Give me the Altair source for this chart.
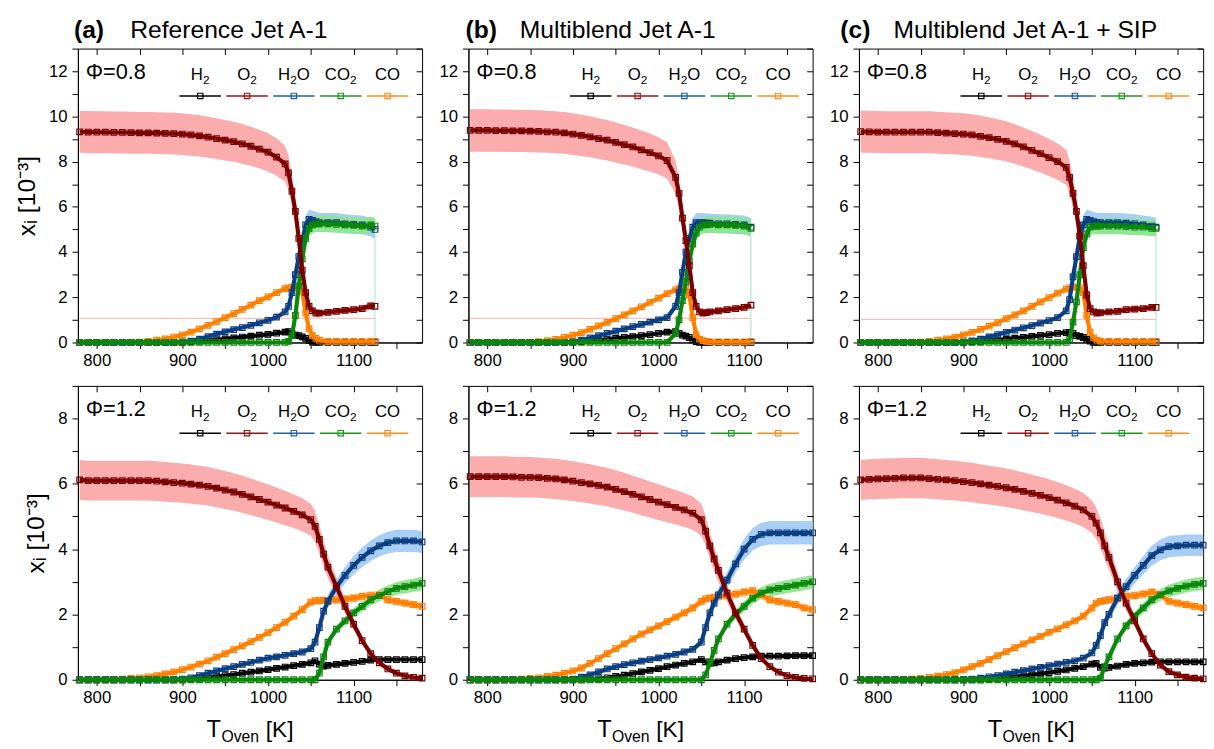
import altair as alt
import pandas as pd

# ------------------------------------------------------------------ data
# oven temperature grid [K]
T_TOP = [780, 790, 800, 810, 820, 830, 840, 850, 860, 870, 880, 890,
         900, 910, 920, 930, 940, 950, 960, 970, 980, 990, 1000, 1010, 1020,
         1024, 1028, 1032, 1036, 1040, 1044, 1048, 1052, 1056, 1060,
         1070, 1080, 1090, 1100]
T_TOP_A = T_TOP + [1110, 1120, 1125]
T_TOP_B = T_TOP + [1108]
T_TOP_C = T_TOP + [1110, 1120, 1125]

T_BOT = [780, 790, 800, 810, 820, 830, 840, 850, 860, 870, 880, 890,
         900, 910, 920, 930, 940, 950, 960, 970, 980, 990, 1000, 1010, 1020, 1030, 1040, 1050,
         1055, 1060, 1065,
         1070, 1080, 1090, 1100, 1110, 1120, 1130, 1140, 1150, 1160, 1170, 1180]

# ---- (a) Reference Jet A-1, phi = 0.8  [10^-3]
A_TOP_H2 = [0, 0, 0, 0, 0, 0, 0, 0, 0, 0, 0, 0,
            0.01, 0.03, 0.06, 0.09, 0.12, 0.16, 0.20, 0.24, 0.28, 0.32, 0.36, 0.41, 0.46,
            0.48, 0.40, 0.33, 0.30, 0.25, 0.18, 0.08, 0.02, 0, 0,
            0, 0, 0, 0,
            0, 0, 0]
A_TOP_O2 = [9.32, 9.31, 9.30, 9.30, 9.29, 9.29, 9.28, 9.27, 9.27, 9.26, 9.25, 9.24,
            9.22, 9.18, 9.14, 9.08, 9.02, 8.95, 8.88, 8.79, 8.68, 8.55, 8.42, 8.20, 7.90,
            7.50, 6.70, 5.80, 4.60, 3.20, 2.20, 1.60, 1.40, 1.30, 1.30,
            1.33, 1.38, 1.42, 1.45,
            1.50, 1.62, 1.60]
A_TOP_H2O = [0, 0, 0, 0, 0, 0, 0, 0, 0, 0, 0, 0,
             0.02, 0.06, 0.15, 0.26, 0.37, 0.47, 0.57, 0.66, 0.76, 0.87, 0.98, 1.12, 1.35,
             1.60, 2.20, 3.00, 3.80, 4.50, 5.20, 5.45, 5.40, 5.35, 5.30,
             5.30, 5.30, 5.25, 5.22,
             5.20, 5.10, 5.00]
A_TOP_CO2 = [0, 0, 0, 0, 0, 0, 0, 0, 0, 0, 0, 0,
             0, 0, 0, 0, 0, 0, 0, 0, 0, 0, 0, 0, 0,
             0.05, 0.30, 1.20, 2.50, 3.70, 4.60, 5.05, 5.20, 5.25, 5.25,
             5.25, 5.22, 5.20, 5.18,
             5.15, 5.20, 5.15]
A_TOP_CO = [0, 0, 0, 0, 0, 0, 0, 0.02, 0.05, 0.10, 0.16, 0.24,
            0.34, 0.46, 0.60, 0.76, 0.92, 1.10, 1.28, 1.46, 1.65, 1.85, 2.02, 2.20, 2.38,
            2.42, 2.45, 2.45, 2.42, 2.25, 1.30, 0.60, 0.30, 0.18, 0.10,
            0.05, 0.05, 0.05, 0.05,
            0.05, 0.05, 0.05]

# ---- (b) Multiblend Jet A-1, phi = 0.8
B_TOP_H2 = [0, 0, 0, 0, 0, 0, 0, 0, 0, 0, 0, 0,
            0.02, 0.04, 0.07, 0.10, 0.14, 0.18, 0.22, 0.26, 0.30, 0.35, 0.40, 0.46, 0.48,
            0.40, 0.33, 0.28, 0.22, 0.12, 0.04, 0, 0, 0, 0,
            0, 0, 0, 0,
            0]
B_TOP_O2 = [9.38, 9.38, 9.38, 9.37, 9.37, 9.36, 9.36, 9.35, 9.34, 9.32, 9.30, 9.27,
            9.22, 9.16, 9.10, 9.02, 8.95, 8.85, 8.75, 8.65, 8.52, 8.40, 8.25, 8.05, 7.30,
            6.60, 5.50, 4.50, 3.40, 2.20, 1.60, 1.35, 1.30, 1.32, 1.35,
            1.40, 1.45, 1.50, 1.55,
            1.65]
B_TOP_H2O = [0, 0, 0, 0, 0, 0, 0, 0, 0, 0, 0, 0,
             0.03, 0.10, 0.20, 0.30, 0.40, 0.50, 0.60, 0.70, 0.80, 0.90, 1.00, 1.10, 1.60,
             2.20, 3.10, 4.00, 4.60, 5.10, 5.30, 5.30, 5.30, 5.28, 5.28,
             5.25, 5.25, 5.22, 5.20,
             5.10]
B_TOP_CO2 = [0, 0, 0, 0, 0, 0, 0, 0, 0, 0, 0, 0,
             0, 0, 0, 0, 0, 0, 0, 0, 0, 0, 0, 0, 0.40,
             1.00, 1.85, 2.70, 3.60, 4.35, 4.85, 5.10, 5.20, 5.20, 5.22,
             5.20, 5.20, 5.18, 5.15,
             5.05]
B_TOP_CO = [0, 0, 0, 0, 0, 0, 0, 0, 0.04, 0.08, 0.14, 0.22,
            0.32, 0.44, 0.58, 0.73, 0.89, 1.05, 1.22, 1.40, 1.58, 1.77, 1.96, 2.16, 2.33,
            2.38, 2.40, 2.40, 2.10, 1.10, 0.35, 0.15, 0.08, 0.05, 0.03,
            0.03, 0.03, 0.03, 0.03,
            0.05]

# ---- (c) Multiblend Jet A-1 + SIP, phi = 0.8
C_TOP_H2 = [0, 0, 0, 0, 0, 0, 0, 0, 0, 0, 0, 0,
            0.01, 0.03, 0.05, 0.08, 0.11, 0.15, 0.19, 0.23, 0.27, 0.31, 0.35, 0.40, 0.44,
            0.45, 0.40, 0.30, 0.27, 0.22, 0.15, 0.06, 0, 0, 0,
            0, 0, 0, 0,
            0, 0, 0]
C_TOP_O2 = [9.33, 9.32, 9.31, 9.30, 9.30, 9.30, 9.30, 9.30, 9.30, 9.28, 9.26, 9.24,
            9.22, 9.18, 9.12, 9.06, 8.98, 8.90, 8.78, 8.65, 8.50, 8.35, 8.18, 8.00, 7.75,
            7.30, 6.60, 5.80, 4.70, 3.40, 2.10, 1.50, 1.35, 1.30, 1.32,
            1.35, 1.38, 1.45, 1.48,
            1.50, 1.55, 1.55]
C_TOP_H2O = [0, 0, 0, 0, 0, 0, 0, 0, 0, 0, 0, 0,
             0.02, 0.07, 0.15, 0.25, 0.35, 0.45, 0.55, 0.65, 0.75, 0.86, 0.97, 1.10, 1.40,
             1.90, 2.90, 3.80, 4.70, 5.20, 5.45, 5.40, 5.35, 5.30, 5.30,
             5.30, 5.30, 5.28, 5.25,
             5.20, 5.15, 5.10]
C_TOP_CO2 = [0, 0, 0, 0, 0, 0, 0, 0, 0, 0, 0, 0,
             0, 0, 0, 0, 0, 0, 0, 0, 0, 0, 0, 0, 0,
             0.15, 0.90, 1.80, 3.00, 4.20, 4.80, 5.10, 5.15, 5.15, 5.15,
             5.15, 5.15, 5.12, 5.10,
             5.10, 5.05, 5.05]
C_TOP_CO = [0, 0, 0, 0, 0, 0, 0, 0.02, 0.05, 0.10, 0.16, 0.24,
            0.34, 0.45, 0.58, 0.72, 0.88, 1.05, 1.22, 1.40, 1.60, 1.80, 1.98, 2.18, 2.36,
            2.42, 2.45, 2.45, 2.42, 2.20, 1.20, 0.45, 0.20, 0.10, 0.06,
            0.05, 0.05, 0.05, 0.05,
            0.05, 0.05, 0.05]

# ---- phi = 1.2
A_BOT_H2 = [0, 0, 0, 0, 0, 0, 0, 0, 0, 0, 0, 0,
            0.00, 0.02, 0.04, 0.07, 0.10, 0.13, 0.16, 0.20, 0.23, 0.27, 0.31, 0.35, 0.39, 0.43, 0.47, 0.52,
            0.58, 0.48, 0.42,
            0.44, 0.47, 0.50, 0.53, 0.56, 0.60, 0.62, 0.62, 0.62, 0.62, 0.62, 0.62]
A_BOT_O2 = [6.12, 6.10, 6.10, 6.10, 6.10, 6.10, 6.10, 6.10, 6.10, 6.08, 6.06, 6.04,
            6.02, 5.99, 5.96, 5.92, 5.87, 5.81, 5.75, 5.68, 5.60, 5.52, 5.44, 5.35, 5.26, 5.16, 5.05, 4.90,
            4.70, 4.30, 3.85,
            3.45, 2.85, 2.25, 1.70, 1.20, 0.80, 0.52, 0.33, 0.20, 0.12, 0.07, 0.05]
A_BOT_H2O = [0, 0, 0, 0, 0, 0, 0, 0, 0, 0, 0, 0,
             0.02, 0.06, 0.13, 0.20, 0.27, 0.34, 0.40, 0.47, 0.53, 0.60, 0.66, 0.70, 0.75, 0.80, 0.85, 0.95,
             1.15, 1.60, 2.10,
             2.40, 2.85, 3.20, 3.50, 3.75, 3.95, 4.10, 4.20, 4.25, 4.25, 4.25, 4.22]
A_BOT_CO2 = [0, 0, 0, 0, 0, 0, 0, 0, 0, 0, 0, 0,
             0, 0, 0, 0, 0, 0, 0, 0, 0, 0, 0, 0, 0, 0, 0, 0,
             0.00, 0.20, 0.70,
             1.15, 1.55, 1.80, 2.05, 2.25, 2.45, 2.58, 2.70, 2.80, 2.85, 2.90, 2.95]
A_BOT_CO = [0, 0, 0, 0, 0, 0.02, 0.04, 0.06, 0.09, 0.13, 0.18, 0.24,
            0.31, 0.39, 0.48, 0.58, 0.69, 0.80, 0.92, 1.04, 1.17, 1.30, 1.44, 1.60, 1.76, 1.95, 2.15, 2.38,
            2.42, 2.42, 2.43,
            2.43, 2.45, 2.47, 2.50, 2.55, 2.58, 2.60, 2.45, 2.40, 2.35, 2.30, 2.25]

B_BOT_H2 = [0, 0, 0, 0, 0, 0, 0, 0, 0, 0, 0, 0,
            0, 0, 0.01, 0.03, 0.06, 0.10, 0.14, 0.19, 0.24, 0.29, 0.34, 0.40, 0.45, 0.50, 0.55, 0.62,
            0.55, 0.50, 0.52,
            0.55, 0.60, 0.65, 0.68, 0.70, 0.72, 0.72, 0.72, 0.73, 0.74, 0.74, 0.74]
B_BOT_O2 = [6.22, 6.22, 6.22, 6.22, 6.22, 6.21, 6.20, 6.20, 6.19, 6.17, 6.15, 6.12,
            6.08, 6.04, 6.00, 5.95, 5.90, 5.83, 5.76, 5.68, 5.60, 5.52, 5.44, 5.36, 5.28, 5.20, 5.10, 4.90,
            4.55, 4.10, 3.70,
            3.35, 2.65, 2.05, 1.55, 1.05, 0.65, 0.40, 0.23, 0.13, 0.07, 0.04, 0.03]
B_BOT_H2O = [0, 0, 0, 0, 0, 0, 0, 0, 0, 0, 0, 0,
             0.02, 0.08, 0.15, 0.24, 0.33, 0.40, 0.46, 0.52, 0.57, 0.62, 0.67, 0.72, 0.78, 0.85, 0.93, 1.15,
             1.60, 2.05, 2.35,
             2.60, 3.05, 3.55, 4.00, 4.30, 4.45, 4.50, 4.50, 4.50, 4.50, 4.50, 4.50]
B_BOT_CO2 = [0, 0, 0, 0, 0, 0, 0, 0, 0, 0, 0, 0,
             0, 0, 0, 0, 0, 0, 0, 0, 0, 0, 0, 0, 0, 0, 0, 0,
             0.15, 0.50, 0.90,
             1.25, 1.70, 2.00, 2.25, 2.50, 2.65, 2.75, 2.80, 2.85, 2.90, 2.95, 3.00]
B_BOT_CO = [0, 0, 0, 0, 0, 0, 0.02, 0.04, 0.06, 0.10, 0.14, 0.20,
            0.27, 0.36, 0.50, 0.65, 0.80, 0.95, 1.10, 1.25, 1.40, 1.53, 1.65, 1.78, 1.92, 2.05, 2.20, 2.40,
            2.48, 2.50, 2.52,
            2.55, 2.58, 2.62, 2.68, 2.72, 2.60, 2.45, 2.40, 2.35, 2.30, 2.20, 2.15]

C_BOT_H2 = [0, 0, 0, 0, 0, 0, 0, 0, 0, 0, 0, 0,
            0, 0, 0.00, 0.02, 0.04, 0.06, 0.09, 0.12, 0.15, 0.18, 0.22, 0.26, 0.30, 0.35, 0.40, 0.48,
            0.50, 0.38, 0.36,
            0.38, 0.42, 0.47, 0.50, 0.52, 0.54, 0.55, 0.55, 0.55, 0.55, 0.55, 0.55]
C_BOT_O2 = [6.12, 6.14, 6.15, 6.16, 6.17, 6.18, 6.18, 6.18, 6.16, 6.14, 6.12, 6.10,
            6.07, 6.04, 6.00, 5.96, 5.92, 5.88, 5.83, 5.77, 5.71, 5.65, 5.58, 5.50, 5.42, 5.32, 5.20, 5.00,
            4.80, 4.50, 4.10,
            3.75, 3.00, 2.35, 1.80, 1.25, 0.80, 0.45, 0.25, 0.15, 0.08, 0.05, 0.03]
C_BOT_H2O = [0, 0, 0, 0, 0, 0, 0, 0, 0, 0, 0, 0,
             0.00, 0.02, 0.05, 0.09, 0.13, 0.18, 0.23, 0.28, 0.33, 0.38, 0.43, 0.48, 0.53, 0.58, 0.66, 0.82,
             1.05, 1.35, 1.75,
             2.00, 2.50, 2.85, 3.20, 3.50, 3.80, 3.98, 4.08, 4.10, 4.12, 4.12, 4.12]
C_BOT_CO2 = [0, 0, 0, 0, 0, 0, 0, 0, 0, 0, 0, 0,
             0, 0, 0, 0, 0, 0, 0, 0, 0, 0, 0, 0, 0, 0, 0, 0,
             0.00, 0.05, 0.40,
             0.70, 1.25, 1.65, 1.95, 2.20, 2.45, 2.60, 2.72, 2.80, 2.87, 2.92, 2.95]
C_BOT_CO = [0, 0, 0, 0, 0, 0.01, 0.02, 0.04, 0.07, 0.11, 0.16, 0.22,
            0.30, 0.40, 0.50, 0.62, 0.74, 0.86, 0.98, 1.10, 1.22, 1.33, 1.45, 1.56, 1.68, 1.80, 1.95, 2.20,
            2.35, 2.40, 2.42,
            2.45, 2.50, 2.55, 2.58, 2.62, 2.68, 2.60, 2.40, 2.35, 2.30, 2.25, 2.20]

# relative measurement uncertainty per species (shaded bands)
REL_UNC = {"H2": 0.0, "O2": 0.10, "H2O": 0.08, "CO2": 0.07, "CO": 0.05}
# thin horizontal artefact line seen in the phi=0.8 panels [10^-3]
ARTEFACT_LEVEL = {"a": 1.07, "b": 1.07, "c": 1.02}

KEYS = ["H2", "O2", "H2O", "CO2", "CO"]
# legend labels as (text, is_subscript) pieces
LABEL_PARTS = {
    "H2": [("H", False), ("2", True)],
    "O2": [("O", False), ("2", True)],
    "H2O": [("H", False), ("2", True), ("O", False)],
    "CO2": [("CO", False), ("2", True)],
    "CO": [("CO", False)],
}
PANEL_TAGS = ["(a)", "(b)", "(c)"]
PANEL_NAMES = ["Reference Jet A-1", "Multiblend Jet A-1", "Multiblend Jet A-1 + SIP"]
PHI_LABELS = ["Φ=0.8", "Φ=1.2"]

# ------------------------------------------------------------------ style
COLORS = {"H2": "#000000", "O2": "#7a0000", "H2O": "#0c3f82", "CO2": "#0b870b", "CO": "#ff8000"}
LEG_COLORS = {"H2": "#000000", "O2": "#9a1515", "H2O": "#2060b0", "CO2": "#1a9a1a", "CO": "#ff8c1a"}
BAND = {"O2": "#fba8a8", "H2O": "#a3cbf5", "CO2": "#8fe48f", "CO": "#ffcfa3"}
DRAW_ORDER = ["H2", "CO", "H2O", "CO2", "O2"]
FONT = "Liberation Sans"
W, H = 349, 298
X_DOMAIN = [778, 1180]
X_TICKS = [800, 850, 900, 950, 1000, 1050, 1100, 1150]
TITLE_X = [(-4, 53), (-3, 52), (-19, 35)]
CHAR_W = {"H": 0.722, "O": 0.778, "C": 0.722, "2": 0.556}
LEG_FS, LEG_SUB_FS = 17, 12


def single():
    return alt.Chart(pd.DataFrame({"d": [0]}))


def txt(text, x, y, size, weight="normal", align="left"):
    return single().mark_text(text=text, font=FONT, fontSize=size, fontWeight=weight,
                              align=align, baseline="alphabetic", color="black").encode(
        x=alt.value(x), y=alt.value(y))


def legend_label(key, cx, y):
    parts = LABEL_PARTS[key]
    widths = [sum(CHAR_W[ch] for ch in s) * (LEG_SUB_FS if sub else LEG_FS) for s, sub in parts]
    x = cx - sum(widths) / 2
    out = []
    for (s, sub), w in zip(parts, widths):
        out.append(txt(s, x, y + (4 if sub else 0), LEG_SUB_FS if sub else LEG_FS))
        x += w
    return out


def panel(T, series, ymax, row, col, artefact=None):
    rows = []
    for k in KEYS:
        vals = series[k]
        if len(vals) != len(T):
            raise ValueError(f"length mismatch {k}: {len(vals)} vs {len(T)}")
        r = REL_UNC[k]
        for t, v in zip(T, vals):
            rows.append({"T": t, "sp": k, "v": v, "lo": v * (1 - r), "hi": v * (1 + r)})
    df = pd.DataFrame(rows)

    xs = alt.Scale(domain=X_DOMAIN, nice=False, zero=False)
    ys = alt.Scale(domain=[0, ymax], nice=False, zero=False)
    y_ticks = list(range(0, ymax + 1))
    xaxis = alt.Axis(values=X_TICKS, format="d",
                     labelExpr="datum.value % 100 === 0 ? datum.label : ''",
                     tickSize=6, labelPadding=4, title=None, grid=False)
    ykw = dict(values=y_ticks, format="d",
               labelExpr="datum.value % 2 === 0 ? datum.label : ''",
               tickSize=6, labelPadding=5, grid=False)
    if col == 0:
        ykw.update(title="xᵢ [10⁻³]", titlePadding=9)
    else:
        ykw.update(title=None)
    yaxis = alt.Axis(**ykw)
    X = alt.X("T:Q", scale=xs, axis=xaxis)

    base = alt.Chart(df)
    layers = []
    for k in ["O2", "H2O", "CO2", "CO"]:
        layers.append(
            base.transform_filter(alt.datum.sp == k)
            .mark_area(color=BAND[k], opacity=0.95)
            .encode(x=X, y=alt.Y("lo:Q", scale=ys, axis=yaxis), y2="hi:Q")
        )
    if artefact is not None:
        art = pd.DataFrame({"x0": [T[0]], "x1": [T[-1]], "y": [artefact]})
        layers.append(alt.Chart(art).mark_rule(color="#ff9c9c", strokeWidth=0.8).encode(
            x=alt.X("x0:Q", scale=xs, axis=xaxis), x2="x1:Q",
            y=alt.Y("y:Q", scale=ys, axis=yaxis)))
        end = pd.DataFrame({"x": [T[-1]], "y0": [0.0],
                            "y1": [series["CO2"][-1] * (1 - REL_UNC["CO2"])]})
        layers.append(alt.Chart(end).mark_rule(color="#8fdcc4", strokeWidth=0.8).encode(
            x=alt.X("x:Q", scale=xs, axis=xaxis),
            y=alt.Y("y0:Q", scale=ys, axis=yaxis), y2="y1:Q"))
    for k in DRAW_ORDER:
        sub = base.transform_filter(alt.datum.sp == k)
        layers.append(sub.mark_line(color=COLORS[k], strokeWidth=4.2).encode(
            x=X, y=alt.Y("v:Q", scale=ys, axis=yaxis)))
        layers.append(sub.mark_point(shape="square", filled=False, size=32, strokeWidth=1.2,
                                     color=COLORS[k], opacity=1).encode(
            x=X, y=alt.Y("v:Q", scale=ys, axis=yaxis)))

    # in-panel legend
    for i, k in enumerate(KEYS):
        cx = 124 + 47.5 * i
        layers.append(single().mark_rule(color=LEG_COLORS[k], strokeWidth=1.5).encode(
            x=alt.value(cx - 21), x2=alt.value(cx + 21), y=alt.value(48)))
        layers.append(single().mark_point(shape="square", filled=False, size=30, strokeWidth=1.2,
                                          color=LEG_COLORS[k], opacity=1).encode(
            x=alt.value(cx), y=alt.value(48)))
        layers.extend(legend_label(k, cx, 32))
    layers.append(txt(PHI_LABELS[row], 8, 31, 22))

    if row == 0:
        tx, nx = TITLE_X[col]
        layers.append(txt(PANEL_TAGS[col], tx, -11, 25, weight="bold"))
        layers.append(txt(PANEL_NAMES[col], nx, -11, 25))
    else:
        c = W / 2
        layers.append(txt("T", c - 44, H + 58, 24))
        layers.append(txt("Oven", c - 29, H + 63, 16))
        layers.append(txt("[K]", c + 16, H + 58, 23))

    inner = alt.layer(*layers)
    mirror = base.mark_point(opacity=0).encode(
        x=alt.X("T:Q", scale=xs, axis=alt.Axis(orient="top", values=X_TICKS, labels=False,
                                                 tickSize=6, offset=-6, domain=False,
                                                 grid=False, title=None)),
        y=alt.Y("v:Q", scale=ys, axis=alt.Axis(orient="right", values=y_ticks, labels=False,
                                                 tickSize=6, offset=-6, domain=False,
                                                 grid=False, title=None)),
    )
    return (alt.layer(inner, mirror)
            .resolve_scale(x="independent", y="independent")
            .properties(width=W, height=H))


def S(h2, o2, h2o, co2, co):
    return {"H2": h2, "O2": o2, "H2O": h2o, "CO2": co2, "CO": co}


panels = [
    panel(T_TOP_A, S(A_TOP_H2, A_TOP_O2, A_TOP_H2O, A_TOP_CO2, A_TOP_CO), 13, 0, 0, ARTEFACT_LEVEL["a"]),
    panel(T_TOP_B, S(B_TOP_H2, B_TOP_O2, B_TOP_H2O, B_TOP_CO2, B_TOP_CO), 13, 0, 1, ARTEFACT_LEVEL["b"]),
    panel(T_TOP_C, S(C_TOP_H2, C_TOP_O2, C_TOP_H2O, C_TOP_CO2, C_TOP_CO), 13, 0, 2, ARTEFACT_LEVEL["c"]),
    panel(T_BOT, S(A_BOT_H2, A_BOT_O2, A_BOT_H2O, A_BOT_CO2, A_BOT_CO), 9, 1, 0),
    panel(T_BOT, S(B_BOT_H2, B_BOT_O2, B_BOT_H2O, B_BOT_CO2, B_BOT_CO), 9, 1, 1),
    panel(T_BOT, S(C_BOT_H2, C_BOT_O2, C_BOT_H2O, C_BOT_CO2, C_BOT_CO), 9, 1, 2),
]

chart = (
    alt.concat(*panels, columns=3, spacing={"row": 44, "column": 47}, bounds="flush")
    .properties(padding={"left": 14, "top": 12, "right": 2, "bottom": 2}, background="white")
    .configure_view(stroke="black", strokeWidth=1)
    .configure_axis(labelFont=FONT, labelFontSize=17, labelColor="black",
                    titleFont=FONT, titleFontSize=25, titleFontWeight="normal", titleColor="black",
                    domainColor="black", tickColor="black", domainWidth=1, tickWidth=1)
    .configure_text(font=FONT)
)

chart.save("out.html", embed_options={"renderer": "svg", "actions": False})
